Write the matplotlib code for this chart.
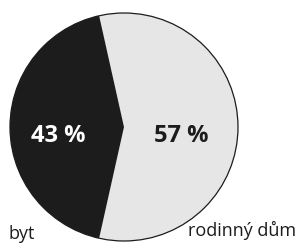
import matplotlib.pyplot as plt

labels = ['rodinný dům', 'byt']
values = [57, 43]
colors = ['#e6e6e6', '#1c1c1c']
pct_colors = ['#1c1c1c', 'white']

W, H = 297, 246
fig = plt.figure(figsize=(W / 100, H / 100), dpi=100)
ax = fig.add_axes([0, 0, 1, 1])

cx, cy, r = 124, H - 127, 114
start = -values[0] / sum(values) * 180
ax.pie(values, colors=colors, startangle=start, counterclock=True,
       center=(cx, cy), radius=r, frame=True, wedgeprops=dict(linewidth=0))
ax.set_xlim(0, W)
ax.set_ylim(0, H)
ax.set_aspect('equal')
ax.axis('off')
ax.add_patch(plt.Circle((cx, cy), r, fill=False, edgecolor='#1c1c1c', linewidth=0.9))

font = ['Open Sans', 'DejaVu Sans']
ax.text(cx + 57, H - 136, f'{values[0]} %', color=pct_colors[0], fontsize=17,
        fontweight='bold', ha='center', va='center', family=font)
ax.text(cx - 66, H - 136, f'{values[1]} %', color=pct_colors[1], fontsize=17,
        fontweight='bold', ha='center', va='center', family=font)

ax.text(296, H - 230, labels[0], fontsize=13, ha='right', va='center',
        color='#1c1c1c', family=font)
ax.text(9, H - 234, labels[1], fontsize=13, ha='left', va='center',
        color='#1c1c1c', family=font)

fig.savefig('out.png', dpi=100)
